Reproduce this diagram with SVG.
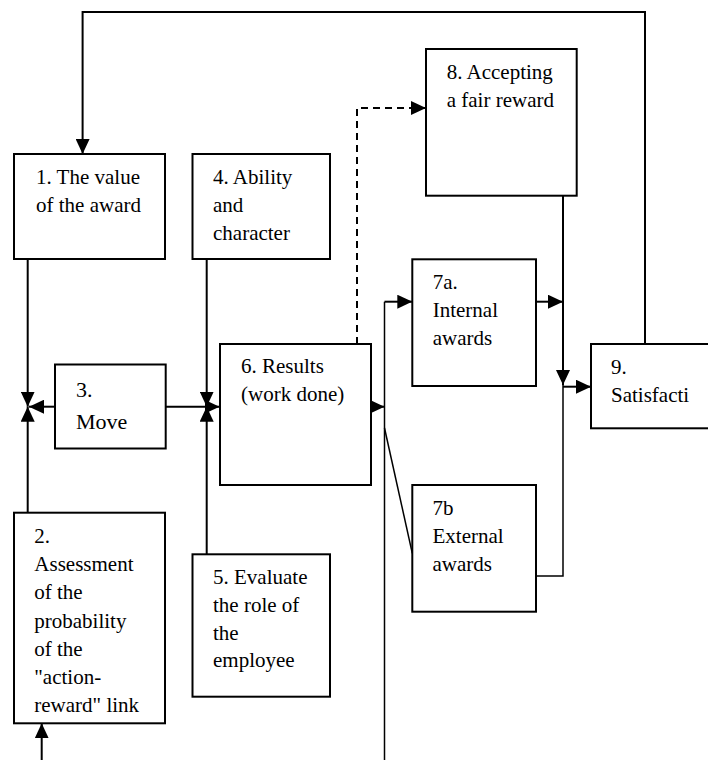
<svg xmlns="http://www.w3.org/2000/svg" width="708" height="760" viewBox="0 0 708 760">
<style>
.box{fill:#fff;stroke:#000;stroke-width:2}
.t{font-family:"Liberation Serif","Times New Roman",serif;font-size:21px;fill:#000}
.big{font-size:22px}
.c{fill:none;stroke:#000;stroke-width:2}
.thin{stroke-width:1.5}
.dash{stroke-dasharray:7 5}
</style>
<defs>
<marker id="ah" viewBox="0 0 15 14" refX="15" refY="7" markerWidth="15" markerHeight="14" markerUnits="userSpaceOnUse" orient="auto">
<path d="M0,0 L15,7 L0,14 z" fill="#000"/>
</marker>
</defs>
<rect width="708" height="760" fill="#fff"/>
<g id="connectors">
<polyline class="c" points="645,344 645,12 82.6,12 82.6,154" marker-end="url(#ah)"/>
<line class="c" x1="27.7" y1="259" x2="27.7" y2="406.7" marker-end="url(#ah)"/>
<line class="c" x1="27.7" y1="512.7" x2="27.7" y2="406.7" marker-end="url(#ah)"/>
<line class="c" x1="55" y1="406.7" x2="29" y2="406.7" marker-end="url(#ah)"/>
<line class="c" x1="206.7" y1="259" x2="206.7" y2="406.7" marker-end="url(#ah)"/>
<line class="c" x1="206.7" y1="554.3" x2="206.7" y2="406.7" marker-end="url(#ah)"/>
<line class="c" x1="165.7" y1="406.7" x2="219.5" y2="406.7" marker-end="url(#ah)"/>
<line class="c" x1="370" y1="406.7" x2="384.5" y2="406.7" marker-end="url(#ah)"/>
<line class="c thin" x1="384.5" y1="301.7" x2="384.5" y2="760"/>
<line class="c" x1="384.5" y1="301.7" x2="412.3" y2="301.7" marker-end="url(#ah)"/>
<line class="c thin" x1="384.5" y1="428" x2="412.3" y2="553.3"/>
<line class="c" x1="536" y1="301.7" x2="563" y2="301.7" marker-end="url(#ah)"/>
<line class="c" x1="563" y1="195.7" x2="563" y2="385" marker-end="url(#ah)"/>
<polyline class="c thin" points="563,385 563,576 536,576"/>
<line class="c" x1="563" y1="386.7" x2="591" y2="386.7" marker-end="url(#ah)"/>
<polyline class="c dash" points="357,344 357,108 426,108" marker-end="url(#ah)"/>
<line class="c" x1="41.7" y1="760" x2="41.7" y2="723.3" marker-end="url(#ah)"/>
</g>
<g id="node1">
<rect class="box" x="14" y="154" width="151" height="105"/>
<text class="t" x="36" y="184">1. The value</text>
<text class="t" x="36" y="212">of the award</text>
</g>
<g id="node4">
<rect class="box" x="192.5" y="154" width="137.5" height="105"/>
<text class="t" x="213" y="184">4. Ability</text>
<text class="t" x="213" y="212">and</text>
<text class="t" x="213" y="240">character</text>
</g>
<g id="node8">
<rect class="box" x="426" y="49" width="150.7" height="146.7"/>
<text class="t" x="446.7" y="79">8. Accepting</text>
<text class="t" x="446.7" y="107">a fair reward</text>
</g>
<g id="node3">
<rect class="box" x="55" y="364.5" width="110.7" height="84"/>
<text class="t big" x="76" y="397">3.</text>
<text class="t big" x="76" y="429">Move</text>
</g>
<g id="node6">
<rect class="box" x="220" y="344" width="151" height="141"/>
<text class="t" x="241" y="373">6. Results</text>
<text class="t" x="241" y="401">(work done)</text>
</g>
<g id="node7a">
<rect class="box" x="412.3" y="259.3" width="123.7" height="126.7"/>
<text class="t" x="432.7" y="289">7a.</text>
<text class="t" x="432.7" y="317">Internal</text>
<text class="t" x="432.7" y="345">awards</text>
</g>
<g id="node7b">
<rect class="box" x="412.3" y="485" width="123.7" height="126.7"/>
<text class="t" x="432.5" y="515">7b</text>
<text class="t" x="432.5" y="543">External</text>
<text class="t" x="432.5" y="571">awards</text>
</g>
<g id="node9">
<rect class="box" x="591" y="344" width="130" height="84.3"/>
<text class="t" x="611" y="374">9.</text>
<text class="t" x="611" y="402">Satisfacti</text>
</g>
<g id="node2">
<rect class="box" x="14" y="512.7" width="151" height="210.6"/>
<text class="t" x="34.3" y="543">2.</text>
<text class="t" x="34.3" y="571">Assessment</text>
<text class="t" x="34.3" y="599">of the</text>
<text class="t" x="34.3" y="627.5">probability</text>
<text class="t" x="34.3" y="655.5">of the</text>
<text class="t" x="34.3" y="683.5">"action-</text>
<text class="t" x="34.3" y="712">reward" link</text>
</g>
<g id="node5">
<rect class="box" x="192.5" y="554.3" width="137.5" height="142.4"/>
<text class="t" x="213" y="584">5. Evaluate</text>
<text class="t" x="213" y="612">the role of</text>
<text class="t" x="213" y="640">the</text>
<text class="t" x="213" y="667">employee</text>
</g>
</svg>
